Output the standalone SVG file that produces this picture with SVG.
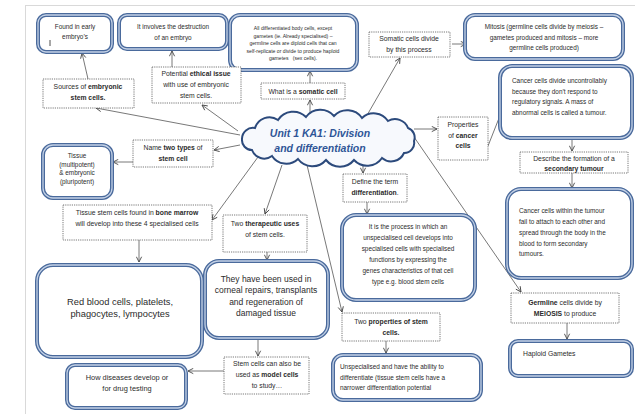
<svg xmlns="http://www.w3.org/2000/svg" width="635" height="414" viewBox="0 0 635 414">
<defs>
<style>
.o{fill:#fff;stroke:#4a6a9c;stroke-width:4}
.i{fill:none;stroke:#c3d1e6;stroke-width:1.3}
.d{fill:#fff;stroke:#555;stroke-width:0.8;stroke-dasharray:1.2 1}
.c{fill:none;stroke:#555;stroke-width:0.8;marker-end:url(#a)}
text{font-family:"Liberation Sans",Arial,sans-serif;fill:#2b2b2b;font-size:6.8px}
.m{text-anchor:middle}
.s5{font-size:5.1px}
.s6{font-size:6.4px}
.s7{font-size:7.4px}
.s8{font-size:8.5px}
.s9{font-size:9.3px}
.b{font-weight:bold}
.t{font-size:10.5px;font-weight:bold;font-style:italic;fill:#2f5597;text-anchor:middle}
</style>
<marker id="a" viewBox="0 0 8 8" refX="7" refY="4" markerWidth="7" markerHeight="7" markerUnits="userSpaceOnUse" orient="auto"><path d="M1,1 L7,4 L1,7" fill="none" stroke="#444" stroke-width="1"/></marker>
</defs>
<rect width="635" height="414" fill="#fff"/>
<g id="page" stroke="#d9d9d9" stroke-width="1"><line x1="25.5" y1="5" x2="25.5" y2="414"/><line x1="25" y1="5.5" x2="635" y2="5.5"/></g>

<g id="connectors">
<line class="c" x1="88" y1="79" x2="82" y2="53"/>
<line class="c" x1="172" y1="67" x2="172" y2="51"/>
<line class="c" x1="240" y1="135" x2="96" y2="108"/>
<line class="c" x1="238" y1="131" x2="202" y2="105"/>
<line class="c" x1="310" y1="114" x2="310" y2="100"/>
<line class="c" x1="310" y1="83" x2="310" y2="71"/>
<line class="c" x1="366" y1="117" x2="400" y2="58"/>
<line class="c" x1="452" y1="44" x2="466" y2="44"/>
<line class="c" x1="414" y1="129" x2="437" y2="129"/>
<line class="c" x1="488" y1="146" x2="503" y2="108"/>
<line class="c" x1="572" y1="139" x2="572" y2="151"/>
<line class="c" x1="572" y1="173" x2="572" y2="188"/>
<line class="c" x1="414" y1="137" x2="521" y2="292"/>
<line class="c" x1="307" y1="165" x2="342" y2="312"/>
<line class="c" x1="363" y1="162" x2="363" y2="173"/>
<line class="c" x1="367" y1="202" x2="367" y2="214"/>
<line class="c" x1="386" y1="341" x2="386" y2="353"/>
<line class="c" x1="567" y1="323" x2="567" y2="339"/>
<line class="c" x1="258" y1="157" x2="212" y2="220"/>
<line class="c" x1="240" y1="145" x2="214" y2="150"/>
<line class="c" x1="133" y1="162" x2="113" y2="162"/>
<line class="c" x1="139" y1="240" x2="139" y2="262"/>
<line class="c" x1="282" y1="165" x2="265" y2="214"/>
<line class="c" x1="267" y1="252" x2="267" y2="260"/>
<line class="c" x1="258" y1="338" x2="258" y2="356"/>
<line class="c" x1="224" y1="371" x2="188" y2="371"/>
</g>

<g id="cloud">
<path d="M255,128 A15 15 0 0 1 278,120 A18 18 0 0 1 306,117 A18 18 0 0 1 334,116 A18 18 0 0 1 362,118 A17 17 0 0 1 388,121 A14 14 0 0 1 408,128 A10 10 0 0 1 414,141 A10 10 0 0 1 404,153 A14 14 0 0 1 382,158 A18 18 0 0 1 354,160 A18 18 0 0 1 326,160 A18 18 0 0 1 298,159 A17 17 0 0 1 272,156 A13 13 0 0 1 252,150 A10 10 0 0 1 242,139 A11 11 0 0 1 255,128 Z" fill="#f7f9fd" stroke="#2c4a7c" stroke-width="2"/>
<text class="t" x="320" y="137">Unit 1 KA1: Division</text>
<text class="t" x="320" y="152">and differentiation</text>
</g>

<g id="found"><rect class="o" x="38" y="15" width="74" height="37" rx="8"/><rect class="i" x="38" y="15" width="74" height="37" rx="8"/>
<text class="m s6" x="75" y="29">Found in early</text><text class="m s6" x="75" y="39">embryo’s</text>
<line x1="50" y1="40" x2="50" y2="46" stroke="#222" stroke-width="0.8"/></g>

<g id="destruction"><rect class="o" x="119" y="15" width="108" height="34" rx="8"/><rect class="i" x="119" y="15" width="108" height="34" rx="8"/>
<text class="m s6" x="173" y="29">It involves the destruction</text><text class="m s6" x="173" y="40">of an embryo</text></g>

<g id="somaticdef"><rect class="o" x="230" y="15" width="127" height="55" rx="10"/><rect class="i" x="230" y="15" width="127" height="55" rx="10"/>
<text class="m s5" x="293" y="30">All differentiated body cells, except</text>
<text class="m s5" x="293" y="38">gametes (ie. Already specialised) –</text>
<text class="m s5" x="293" y="45">germline cells are diploid cells that can</text>
<text class="m s5" x="293" y="53">self-replicate or divide to produce haploid</text>
<text class="m s5" x="293" y="60" xml:space="preserve">gametes   (sex cells).</text></g>

<g id="mitosis"><rect class="o" x="465" y="15" width="158" height="44" rx="10"/><rect class="i" x="465" y="15" width="158" height="44" rx="10"/>
<text class="m s6" x="544" y="29">Mitosis (germline cells divide by meiosis –</text>
<text class="m s6" x="544" y="40">gametes produced and mitosis – more</text>
<text class="m s6" x="544" y="50">germline cells produced)</text></g>

<g id="cancer"><rect class="o" x="500" y="66" width="132" height="72" rx="12"/><rect class="i" x="500" y="66" width="132" height="72" rx="12"/>
<text class="s6" x="512" y="83">Cancer cells divide uncontrollably</text>
<text class="s6" x="512" y="94">because they don’t respond to</text>
<text class="s6" x="512" y="104">regulatory signals. A mass of</text>
<text class="s6" x="512" y="115">abnormal cells is called a tumour.</text></g>

<g id="secondary"><rect class="o" x="507" y="189" width="125" height="89" rx="14"/><rect class="i" x="507" y="189" width="125" height="89" rx="14"/>
<text class="s6" x="519" y="213">Cancer cells within the tumour</text>
<text class="s6" x="519" y="224">fail to attach to each other and</text>
<text class="s6" x="519" y="235">spread through the body in the</text>
<text class="s6" x="519" y="246">blood to form secondary</text>
<text class="s6" x="519" y="256">tumours.</text></g>

<g id="haploid"><rect class="o" x="510" y="341" width="122" height="35" rx="8"/><rect class="i" x="510" y="341" width="122" height="35" rx="8"/>
<text x="523" y="356">Haploid Gametes</text></g>

<g id="unspecialised"><rect class="o" x="333" y="355" width="148" height="45" rx="10"/><rect class="i" x="333" y="355" width="148" height="45" rx="10"/>
<text class="s6" x="340" y="369">Unspecialised and have the ability to</text>
<text class="s6" x="340" y="380">differentiate (tissue stem cells have a</text>
<text class="s6" x="340" y="390">narrower differentiation potential</text></g>

<g id="diff"><rect class="o" x="342" y="215" width="133" height="85" rx="14"/><rect class="i" x="342" y="215" width="133" height="85" rx="14"/>
<text class="m s6" x="408" y="229">It is the process in which an</text>
<text class="m s6" x="408" y="240">unspecialised cell develops into</text>
<text class="m s6" x="408" y="251">specialised cells with specialised</text>
<text class="m s6" x="408" y="262">functions by expressing the</text>
<text class="m s6" x="408" y="273">genes characteristics of that cell</text>
<text class="m s6" x="408" y="284">type e.g. blood stem cells</text></g>

<g id="theyhave"><rect class="o" x="205" y="261" width="123" height="77" rx="14"/><rect class="i" x="205" y="261" width="123" height="77" rx="14"/>
<text class="m s8" x="266" y="282">They have been used in</text>
<text class="m s8" x="266" y="293">corneal repairs, transplants</text>
<text class="m s8" x="266" y="305">and regeneration of</text>
<text class="m s8" x="266" y="316">damaged tissue</text></g>

<g id="redblood"><rect class="o" x="37" y="265" width="165" height="92" rx="16"/><rect class="i" x="37" y="265" width="165" height="92" rx="16"/>
<text class="m s9" x="120" y="305">Red blood cells, platelets,</text>
<text class="m s9" x="120" y="317">phagocytes, lympocytes</text></g>

<g id="howdiseases"><rect class="o" x="67" y="365" width="119" height="43" rx="8"/><rect class="i" x="67" y="365" width="119" height="43" rx="8"/>
<text class="m s7" x="127" y="380">How diseases develop or</text>
<text class="m s7" x="127" y="391">for drug testing</text></g>

<g id="tissue"><rect class="o" x="43" y="145" width="69" height="53" rx="10"/><rect class="i" x="43" y="145" width="69" height="53" rx="10"/>
<text class="m s6" x="77" y="158">Tissue</text>
<text class="m s6" x="77" y="167">(multipotent)</text>
<text class="m s6" x="77" y="175">&amp; embryonic</text>
<text class="m s6" x="77" y="184">(pluripotent)</text></g>

<g id="sources"><rect class="d" x="43" y="79" width="91" height="29"/>
<text class="m" x="88" y="89">Sources of <tspan class="b">embryonic</tspan></text>
<text class="m b" x="88" y="100">stem cells.</text></g>

<g id="ethical"><rect class="d" x="152" y="67" width="89" height="36"/>
<text class="m" x="196" y="76">Potential <tspan class="b">ethical issue</tspan></text>
<text class="m" x="196" y="87">with use of embryonic</text>
<text class="m" x="196" y="98">stem cells.</text></g>

<g id="whatis"><rect class="d" x="261" y="83" width="84" height="16"/>
<text class="m" x="303" y="94">What is a <tspan class="b">somatic cell</tspan></text></g>

<g id="somaticdivide"><rect class="d" x="369" y="32" width="81" height="25"/>
<text class="m" x="409" y="41">Somatic cells divide</text>
<text class="m" x="409" y="52">by this process</text></g>

<g id="properties"><rect class="d" x="438" y="117" width="50" height="43"/>
<text class="m" x="463" y="127">Properties</text>
<text class="m" x="463" y="138">of <tspan class="b">cancer</tspan></text>
<text class="m b" x="463" y="148">cells</text></g>

<g id="describe"><rect class="d" x="520" y="152" width="108" height="21"/>
<text class="m" x="574" y="161">Describe the formation of a</text>
<text class="m b" x="574" y="170.5">secondary tumour</text></g>

<g id="germline"><rect class="d" x="511" y="293" width="108" height="30"/>
<text class="m" x="565" y="305"><tspan class="b">Germline</tspan> cells divide by</text>
<text class="m" x="565" y="316"><tspan class="b">MEIOSIS</tspan> to produce</text></g>

<g id="twoprops"><rect class="d" x="342" y="313" width="98" height="28"/>
<text class="m" x="391" y="324">Two <tspan class="b">properties of stem</tspan></text>
<text class="m b" x="391" y="335">cells.</text></g>

<g id="define"><rect class="d" x="343" y="174" width="64" height="28"/>
<text class="m" x="375" y="184">Define the term</text>
<text class="m" x="375" y="195"><tspan class="b">differentiation</tspan>.</text></g>

<g id="nametypes"><rect class="d" x="133" y="140" width="80" height="27"/>
<text class="m" x="173" y="150">Name <tspan class="b">two types</tspan> of</text>
<text class="m b" x="173" y="161">stem cell</text></g>

<g id="bonemarrow"><rect class="d" x="63" y="205" width="149" height="35"/>
<text class="m" x="137" y="215">Tissue stem cells found in <tspan class="b">bone marrow</tspan></text>
<text class="m" x="137" y="226">will develop into these 4 specialised cells</text></g>

<g id="therapeutic"><rect class="d" x="223" y="215" width="84" height="37"/>
<text class="m" x="265" y="226">Two <tspan class="b">therapeutic uses</tspan></text>
<text class="m" x="265" y="237">of stem cells.</text></g>

<g id="model"><rect class="d" x="224" y="357" width="85" height="37"/>
<text class="m" x="267" y="366">Stem cells can also be</text>
<text class="m" x="267" y="377">used as <tspan class="b">model cells</tspan></text>
<text class="m" x="267" y="388">to study…</text></g>
</svg>
